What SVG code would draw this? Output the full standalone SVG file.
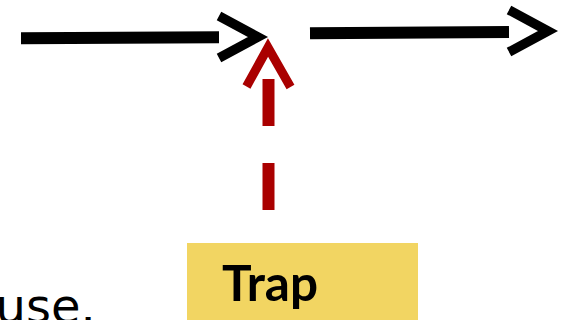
<svg xmlns="http://www.w3.org/2000/svg" width="568" height="320" viewBox="0 0 568 320">
  <style>
    .line { stroke: #000; stroke-width: 12; fill: none; stroke-linecap: butt; }
    .head { stroke: #000; stroke-width: 9.5; fill: none; stroke-linejoin: miter; stroke-miterlimit: 10; stroke-linecap: butt; }
    .trap-line { stroke: #aa0000; stroke-width: 12; fill: none; stroke-dasharray: 47 37; }
    .trap-head { stroke: #aa0000; stroke-width: 9; fill: none; stroke-linejoin: miter; stroke-miterlimit: 10; }
    .box { fill: #f2d562; }
    .label { font-family: Lato, "Noto Sans", sans-serif; font-weight: 700; font-size: 49px; fill: #000; }
    .caption { font-family: "DejaVu Sans", sans-serif; font-size: 48px; fill: #000; }
  </style>
  <g id="connectors">
    <line class="line" x1="21" y1="38.3" x2="219" y2="37.3"/>
    <polyline class="head" points="219,16 258,37 219,58"/>
    <line class="line" x1="310" y1="33.3" x2="509" y2="32"/>
    <polyline class="head" points="509,10 548,31 509,52"/>
    <line class="trap-line" x1="268.5" y1="210" x2="268.5" y2="50"/>
    <polyline class="trap-head" points="246.5,86.5 268,47.5 290.5,87"/>
  </g>
  <g id="caption">
    <text class="caption" x="-4.5" y="323">use.</text>
  </g>
  <g id="trap">
    <rect class="box" x="187" y="243" width="231" height="80"/>
    <text class="label" x="222" y="301" textLength="96" lengthAdjust="spacingAndGlyphs">Trap</text>
  </g>
</svg>
